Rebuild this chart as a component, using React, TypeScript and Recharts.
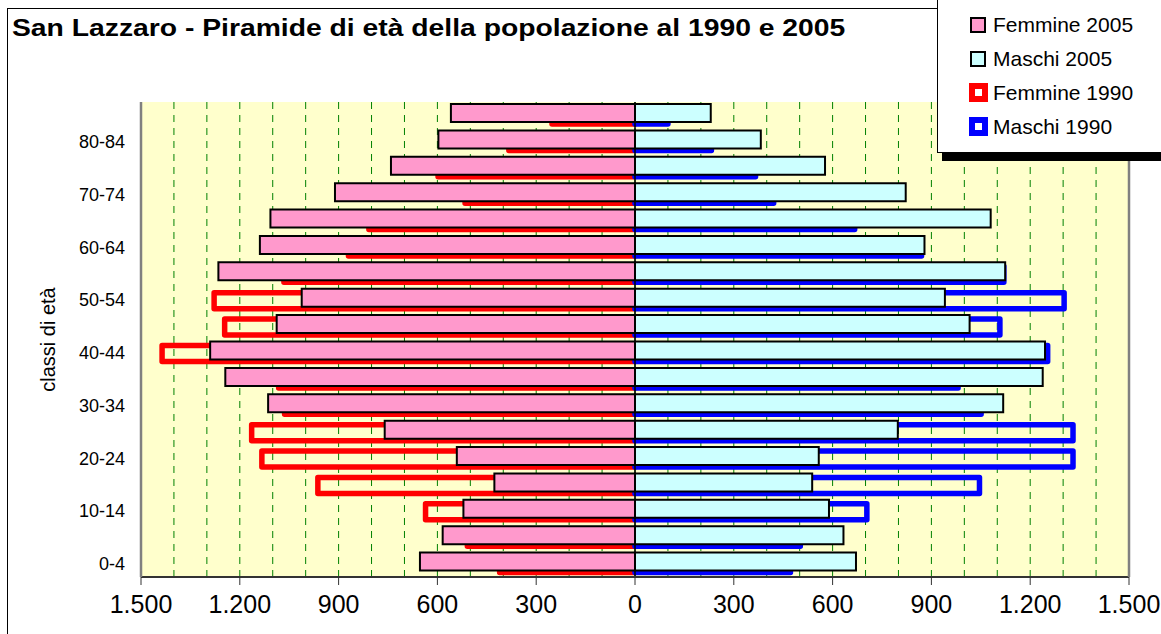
import React from 'react';
import {
  BarChart,
  Bar,
  XAxis,
  YAxis,
  CartesianGrid,
  ReferenceLine,
} from 'recharts';

// Age classes, bottom to top
const AGES = [
  '0-4', '5-9', '10-14', '15-19', '20-24', '25-29', '30-34', '35-39', '40-44',
  '45-49', '50-54', '55-59', '60-64', '65-69', '70-74', '75-79', '80-84', '85+',
];
const SHOWN_AGE_LABELS = ['0-4', '10-14', '20-24', '30-34', '40-44', '50-54', '60-64', '70-74', '80-84'];

const FEMMINE_2005 = [653, 584, 521, 427, 541, 760, 1114, 1244, 1290, 1088, 1012, 1265, 1139, 1107, 911, 741, 597, 559];
const MASCHI_2005 = [671, 633, 589, 538, 558, 798, 1118, 1238, 1245, 1016, 941, 1124, 879, 1080, 822, 577, 382, 230];
const FEMMINE_1990 = [411, 509, 636, 963, 1133, 1164, 1064, 1082, 1436, 1246, 1278, 1066, 870, 808, 516, 598, 383, 252];
const MASCHI_1990 = [472, 502, 704, 1046, 1330, 1330, 1051, 981, 1253, 1108, 1303, 1120, 870, 667, 421, 366, 232, 100];

// labelled ticks (every 300) and grid ticks (every 100)
const LABEL_TICKS = [-1500, -1200, -900, -600, -300, 0, 300, 600, 900, 1200, 1500];
const GRID_TICKS = [
  -1500, -1400, -1300, -1200, -1100, -1000, -900, -800, -700, -600, -500, -400, -300, -200, -100, 0,
  100, 200, 300, 400, 500, 600, 700, 800, 900, 1000, 1100, 1200, 1300, 1400, 1500,
];
const INNER_GRID = GRID_TICKS.filter((v) => v !== -1500 && v !== 1500);

const TITLE = 'San Lazzaro - Piramide di età della popolazione al 1990 e 2005';
const Y_LABEL = 'classi di età';

const LEGEND_ITEMS = [
  { name: 'Femmine 2005', kind: 'fill', color: '#FF99CC' },
  { name: 'Maschi 2005', kind: 'fill', color: '#CCFFFF' },
  { name: 'Femmine 1990', kind: 'outline', color: '#FF0000' },
  { name: 'Maschi 1990', kind: 'outline', color: '#0000FF' },
];

const rows = AGES.map((age, i) => ({
  age,
  f2005: -FEMMINE_2005[i],
  m2005: MASCHI_2005[i],
  f1990: -FEMMINE_1990[i],
  m1990: MASCHI_1990[i],
})).reverse();

const FONT = '"Liberation Sans", Arial, sans-serif';

const fmt = (v: number) => String(Math.abs(v)).replace(/\B(?=(\d{3})+(?!\d))/g, '.');
const shownAges = new Set(SHOWN_AGE_LABELS);
const labelled = new Set(LABEL_TICKS);

const TICK_SIZE = 8;
const TICK_MARGIN = 10;

const XTick = (props: any) => {
  const { x, y, payload } = props;
  const v = payload?.value;
  if (!labelled.has(v)) return <g />;
  const axisY = y - TICK_MARGIN - TICK_SIZE;
  return (
    <g>
      <line x1={x} x2={x} y1={axisY} y2={axisY + TICK_SIZE} stroke="#333" strokeWidth={1} />
      <text x={x} y={y} dy="0.71em" textAnchor="middle" fontSize={25} fill="#000" fontFamily={FONT}>
        {fmt(v)}
      </text>
    </g>
  );
};

const NoTick = () => <g />;

// grid lines every 100 (without the two outer edges, which are the plot border)
const gridGenerator = (p: any) => {
  const scale = p?.xAxis?.scale;
  if (typeof scale === 'function') return INNER_GRID.map((v) => scale(v));
  if (scale && typeof scale.map === 'function') return INNER_GRID.map((v) => scale.map(v));
  const ticks = p?.xAxis?.ticks;
  if (Array.isArray(ticks)) {
    return ticks
      .filter((t: any) => INNER_GRID.includes(t?.value))
      .map((t: any) => t.coordinate);
  }
  return [];
};

const YLabel = (props: any) => {
  const vb = props.viewBox || {};
  const x = vb.x + 28;
  const y = vb.y + vb.height / 2;
  return (
    <text
      x={x}
      y={y}
      transform={`rotate(-90, ${x}, ${y})`}
      textAnchor="middle"
      dominantBaseline="central"
      fontSize={20}
      fill="#000"
      fontFamily={FONT}
    >
      {Y_LABEL}
    </text>
  );
};

export default function App() {
  return (
    <div
      style={{
        position: 'absolute',
        left: 0,
        top: 0,
        width: 1161,
        height: 634,
        overflow: 'hidden',
        background: '#fff',
        fontFamily: FONT,
      }}
    >
      {/* outer chart border */}
      <div
        style={{
          position: 'absolute',
          left: 7,
          top: 8,
          width: 1200,
          height: 700,
          borderLeft: '1px solid #000',
          borderTop: '1px solid #000',
        }}
      />
      <div
        style={{
          position: 'absolute',
          left: 12,
          top: 17,
          fontSize: 23,
          lineHeight: '23px',
          fontWeight: 'bold',
          color: '#000',
          whiteSpace: 'nowrap',
          transform: 'scaleX(1.23)',
          transformOrigin: 'left center',
        }}
      >
        {TITLE}
      </div>
      <div style={{ position: 'absolute', left: 0, top: 0 }}>
        <BarChart
          width={1161}
          height={634}
          data={rows}
          layout="vertical"
          stackOffset="sign"
          barGap={-20}
          margin={{ top: 102, right: 31, bottom: 7, left: 20 }}
          style={{ fontFamily: FONT }}
        >
          <CartesianGrid
            horizontal={false}
            verticalCoordinatesGenerator={gridGenerator}
            fill="#FFFFCC"
            stroke="#008000"
            strokeDasharray="7 6"
          />
          <XAxis
            type="number"
            domain={[-1500, 1500]}
            ticks={GRID_TICKS}
            interval={0}
            tick={XTick}
            tickSize={TICK_SIZE}
            tickMargin={TICK_MARGIN}
            tickLine={false}
            axisLine={{ stroke: '#333', strokeWidth: 2 }}
            height={50}
          />
          <XAxis
            xAxisId="top"
            orientation="top"
            type="number"
            domain={[-1500, 1500]}
            tick={NoTick}
            tickLine={false}
            axisLine={{ stroke: '#808080', strokeWidth: 2.5 }}
            height={0}
          />
          <YAxis
            type="category"
            dataKey="age"
            width={121}
            interval={0}
            tickFormatter={(v: string) => (shownAges.has(v) ? v : '')}
            tickSize={0}
            tickMargin={16}
            tickLine={false}
            tick={{ fill: '#000', fontSize: 18 }}
            axisLine={{ stroke: '#808080', strokeWidth: 2.5 }}
            label={<YLabel />}
          />
          <YAxis
            yAxisId="r"
            orientation="right"
            type="category"
            dataKey="age"
            width={1}
            tick={NoTick}
            tickLine={false}
            axisLine={{ stroke: '#808080', strokeWidth: 2.5 }}
          />
          <Bar
            dataKey="f1990"
            name="Femmine 1990"
            stackId="y1990"
            barSize={16}
            fill="none"
            stroke="#FF0000"
            strokeWidth={5.5}
            strokeLinejoin="round"
            isAnimationActive={false}
          />
          <Bar
            dataKey="m1990"
            name="Maschi 1990"
            stackId="y1990"
            barSize={16}
            fill="none"
            stroke="#0000FF"
            strokeWidth={5.5}
            strokeLinejoin="round"
            isAnimationActive={false}
          />
          <Bar
            dataKey="f2005"
            name="Femmine 2005"
            stackId="y2005"
            barSize={18}
            fill="#FF99CC"
            stroke="#000"
            strokeWidth={2}
            isAnimationActive={false}
          />
          <Bar
            dataKey="m2005"
            name="Maschi 2005"
            stackId="y2005"
            barSize={18}
            fill="#CCFFFF"
            stroke="#000"
            strokeWidth={2}
            isAnimationActive={false}
          />
          <ReferenceLine x={0} stroke="#000" strokeWidth={1.5} />
        </BarChart>
      </div>
      {/* legend box */}
      <div
        style={{
          position: 'absolute',
          left: 937,
          top: -5,
          width: 240,
          height: 156,
          background: '#fff',
          border: '1px solid #000',
          boxShadow: '5px 8px 0 0 #000',
        }}
      />
      {LEGEND_ITEMS.map((item, i) => (
        <div
          key={item.name}
          style={{
            position: 'absolute',
            left: 966,
            top: 24.5 + i * 34 - 17,
            height: 34,
            display: 'flex',
            alignItems: 'center',
            whiteSpace: 'nowrap',
          }}
        >
          <div style={{ width: 24, display: 'flex', justifyContent: 'center' }}>
            {item.kind === 'fill' ? (
              <div
                style={{
                  width: 12,
                  height: 12,
                  background: item.color,
                  border: '2px solid #000',
                }}
              />
            ) : (
              <div
                style={{
                  width: 7,
                  height: 7,
                  background: '#fff',
                  border: `6.5px solid ${item.color}`,
                }}
              />
            )}
          </div>
          <span style={{ fontSize: 21, color: '#000', marginLeft: 3 }}>{item.name}</span>
        </div>
      ))}
    </div>
  );
}
